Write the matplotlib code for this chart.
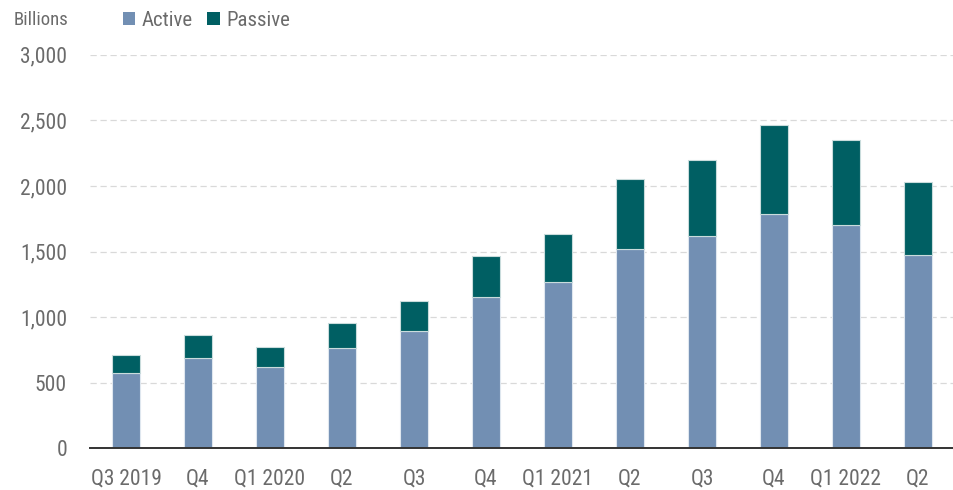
import matplotlib
matplotlib.use("Agg")
import matplotlib.pyplot as plt
from matplotlib import font_manager
from matplotlib.patches import Patch

# Quarterly flows, in billions
quarters = ["Q3 2019", "Q4", "Q1 2020", "Q2", "Q3", "Q4",
            "Q1 2021", "Q2", "Q3", "Q4", "Q1 2022", "Q2"]
active = [575, 692, 621, 766, 896, 1157, 1269, 1521, 1617, 1785, 1703, 1475]
passive = [140, 173, 150, 193, 231, 310, 363, 531, 580, 678, 646, 556]
y_ticks = [0, 500, 1000, 1500, 2000, 2500, 3000]

ACTIVE_COLOR = "#728fb3"
PASSIVE_COLOR = "#005f63"
TEXT_COLOR = "#6b6b6b"

available = {f.name for f in font_manager.fontManager.ttflist}
family = next((f for f in ["Liberation Sans Narrow", "Roboto Condensed", "Roboto"]
               if f in available), "DejaVu Sans")
plt.rcParams["font.family"] = [family, "DejaVu Sans"]

fig = plt.figure(figsize=(9.54, 4.9), dpi=100)
ax = fig.add_axes([0.0943, 0.0847, 0.9057, 0.8033])

x = list(range(len(quarters)))
ax.bar(x, active, width=0.4, color=ACTIVE_COLOR, edgecolor="#dfe7ef",
       linewidth=0.8, zorder=3)
ax.bar(x, passive, width=0.4, bottom=active, color=PASSIVE_COLOR,
       edgecolor="#c9dcdc", linewidth=0.8, zorder=3)

ax.set_xlim(-0.5, len(quarters) - 0.5)
ax.set_ylim(0, 3000)
ax.set_yticks(y_ticks)
ax.set_yticklabels([f"{v:,}" for v in y_ticks])
ax.set_xticks(x)
ax.set_xticklabels(quarters)

ax.yaxis.grid(True, linestyle=(0, (5, 3)), color="#d9d9d9", linewidth=0.9, zorder=0)
ax.xaxis.grid(False)
for side in ["top", "right", "left"]:
    ax.spines[side].set_visible(False)
ax.spines["bottom"].set_color("#333333")
ax.spines["bottom"].set_linewidth(1.4)
ax.spines["bottom"].set_zorder(4)

ax.tick_params(axis="both", length=0, labelsize=15.5, labelcolor=TEXT_COLOR)
ax.tick_params(axis="y", pad=16.5)
ax.tick_params(axis="x", pad=14.5)

fig.text(0.014, 0.960, "Billions", fontsize=13.5, color=TEXT_COLOR,
         ha="left", va="center")

handles = [Patch(facecolor=ACTIVE_COLOR, label="Active"),
           Patch(facecolor=PASSIVE_COLOR, label="Passive")]
fig.legend(handles=handles, loc="center left", bbox_to_anchor=(0.1286, 0.959),
           ncol=2, frameon=False, fontsize=15, labelcolor=TEXT_COLOR,
           handlelength=0.6, handleheight=0.6, handletextpad=0.3,
           columnspacing=0.7, borderaxespad=0, borderpad=0)

fig.savefig("out.png", dpi=100)
